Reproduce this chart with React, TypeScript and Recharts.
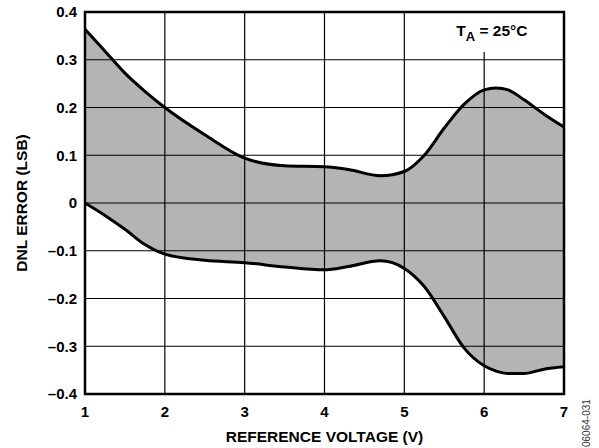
import React from 'react';
import {
  ComposedChart,
  Area,
  Line,
  XAxis,
  YAxis,
  ReferenceArea,
  ReferenceLine,
} from 'recharts';

// reference voltage (V)
const voltage = [1, 1.25, 1.5, 1.75, 2, 2.5, 3, 3.5, 4, 4.3, 4.7, 5, 5.25, 5.5, 5.75, 6, 6.15, 6.3, 6.5, 6.75, 7];
// upper DNL envelope (LSB)
const dnlMax = [0.364, 0.318, 0.272, 0.234, 0.2, 0.143, 0.094, 0.078, 0.076, 0.07, 0.057, 0.066, 0.1, 0.157, 0.207, 0.237, 0.241, 0.237, 0.216, 0.186, 0.159];
// lower DNL envelope (LSB)
const dnlMin = [0, -0.026, -0.055, -0.087, -0.107, -0.12, -0.125, -0.134, -0.14, -0.133, -0.121, -0.137, -0.175, -0.238, -0.304, -0.341, -0.352, -0.357, -0.357, -0.348, -0.343];

const xTicks = [1, 2, 3, 4, 5, 6, 7];
const yTicks = [-0.4, -0.3, -0.2, -0.1, 0, 0.1, 0.2, 0.3, 0.4];

const data = voltage.map((v, i) => ({
  v,
  hi: dnlMax[i],
  lo: dnlMin[i],
  band: [dnlMin[i], dnlMax[i]],
}));

const FONT = '"Liberation Sans", Arial, sans-serif';

// white label box in the top right corner (value space)
const labelBox = { x1: 5.5, x2: 6.8, y1: 0.316, y2: 0.398 };

const fmtY = (val: number) => {
  if (val === 0) return '0';
  const s = Math.abs(val).toFixed(1);
  return val < 0 ? `\u2013${s}` : s;
};

const tickStyle = { fill: '#000', fontSize: 15, fontWeight: 700, fontFamily: FONT };

const App = () => {
  return (
    <div style={{ position: 'absolute', left: 0, top: 0, width: 599, height: 448, background: '#fff' }}>
      <ComposedChart
        width={599}
        height={448}
        data={data}
        margin={{ top: 12, right: 35, left: 0, bottom: 4 }}
        style={{ fontFamily: FONT }}
      >
        <XAxis
          dataKey="v"
          type="number"
          domain={[1, 7]}
          ticks={xTicks}
          height={50}
          axisLine={false}
          tickLine={false}
          tickSize={0}
          tickMargin={12}
          tick={tickStyle}
          label={(props: any) => {
            const vb = props.viewBox;
            return (
              <text
                x={vb.x + vb.width / 2}
                y={vb.y + 47.5}
                textAnchor="middle"
                fill="#000"
                fontSize={15.5}
                fontWeight={700}
                fontFamily={FONT}
              >
                REFERENCE VOLTAGE (V)
              </text>
            );
          }}
        />
        <YAxis
          type="number"
          domain={[-0.4, 0.4]}
          ticks={yTicks}
          width={85}
          axisLine={false}
          tickLine={false}
          tickSize={0}
          tickMargin={8}
          tickFormatter={fmtY}
          tick={tickStyle}
          label={(props: any) => {
            const vb = props.viewBox;
            const cx = vb.x + 26.5;
            const cy = vb.y + vb.height / 2;
            return (
              <text
                x={cx}
                y={cy}
                transform={`rotate(-90, ${cx}, ${cy})`}
                textAnchor="middle"
                fill="#000"
                fontSize={15.5}
                fontWeight={700}
                fontFamily={FONT}
              >
                DNL ERROR (LSB)
              </text>
            );
          }}
        />
        <Area
          type="monotone"
          dataKey="band"
          fill="#b4b4b4"
          fillOpacity={1}
          stroke="none"
          isAnimationActive={false}
        />
        {xTicks.slice(1, -1).map((t) => {
          const top = t > labelBox.x1 && t < labelBox.x2 ? labelBox.y1 : 0.4;
          return (
            <ReferenceLine
              key={`vx${t}`}
              segment={[{ x: t, y: -0.4 }, { x: t, y: top }]}
              stroke="#000"
              strokeWidth={1.2}
            />
          );
        })}
        {yTicks.slice(1, -1).map((t) => (
          <ReferenceLine key={`hy${t}`} y={t} stroke="#000" strokeWidth={1.2} />
        ))}
        <Line type="monotone" dataKey="hi" stroke="#000" strokeWidth={3} dot={false} isAnimationActive={false} />
        <Line type="monotone" dataKey="lo" stroke="#000" strokeWidth={3} dot={false} isAnimationActive={false} />
        <ReferenceArea
          {...labelBox}
          fill="#fff"
          fillOpacity={0}
          stroke="none"
          label={(props: any) => {
            const vb = props.viewBox;
            const x = vb.x + 12;
            const y = vb.y + 23.4;
            return (
              <text x={x} y={y} fill="#000" fontSize={15.5} fontWeight={700} fontFamily={FONT}>
                T
                <tspan fontSize={13} dy={5}>A</tspan>
                <tspan dy={-5}> = 25°C</tspan>
              </text>
            );
          }}
        />
        <ReferenceArea
          x1={1}
          x2={7}
          y1={-0.4}
          y2={0.4}
          fill="none"
          stroke="#000"
          strokeWidth={2.5}
        />
      </ComposedChart>
      <div
        style={{
          position: 'absolute',
          left: 580,
          top: 397,
          width: 14,
          height: 50,
          fontFamily: FONT,
          fontSize: 10,
          color: '#333',
          writingMode: 'vertical-rl',
          transform: 'rotate(180deg)',
          lineHeight: '14px',
        }}
      >
        06064-031
      </div>
    </div>
  );
};

export default App;
